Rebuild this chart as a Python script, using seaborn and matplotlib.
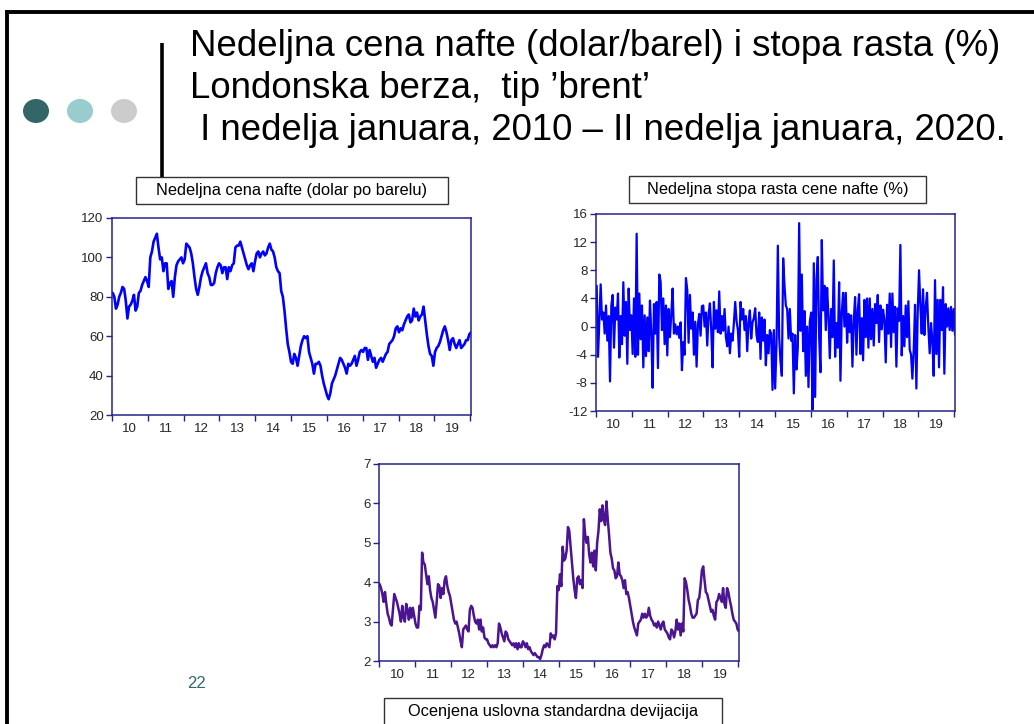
import numpy as np
import pandas as pd
import matplotlib
matplotlib.use("Agg")
import matplotlib.pyplot as plt
from matplotlib.patches import Rectangle, Ellipse
from matplotlib.lines import Line2D
import seaborn as sns

# ---------------- data ----------------
start_date = "2010-01-08"
end_date = "2020-01-10"
year_ticks = list(range(2010, 2021))
year_labels = ["10", "11", "12", "13", "14", "15", "16", "17", "18", "19"]

price = [82, 80, 74, 76, 80, 82, 85, 84, 78, 69, 75, 76, 78, 81, 73, 75, 82, 83, 86, 88,
         90, 88, 85, 100, 103, 108, 110, 112, 105, 99, 100, 93, 97, 97, 84, 87, 88, 80, 90, 96,
         98, 99, 100, 97, 99, 107, 106, 105, 102, 97, 90, 84, 81, 85, 90, 93, 95, 97, 92, 90,
         86, 86, 87, 92, 95, 97, 96, 92, 95, 95, 89, 95, 93, 96, 97, 105, 106, 106, 108, 105,
         102, 99, 96, 94, 96, 97, 93, 98, 102, 103, 100, 102, 103, 101, 102, 105, 107, 104, 103, 100,
         95, 93, 92, 83, 80, 73, 64, 56, 52, 47, 46, 51, 49, 45, 50, 55, 58, 60, 59, 60,
         52, 49, 46, 41, 46, 46, 47, 45, 40, 36, 33, 30, 28, 31, 36, 38, 40, 43, 46, 49,
         48, 46, 44, 41, 46, 45, 46, 48, 50, 45, 48, 52, 53, 52, 54, 54, 48, 53, 50, 47,
         49, 44, 46, 48, 49, 47, 49, 51, 52, 56, 57, 58, 60, 64, 65, 62, 64, 63, 66, 68,
         70, 71, 67, 68, 74, 70, 72, 68, 70, 71, 75, 68, 61, 55, 51, 50, 45, 52, 54, 55,
         57, 60, 63, 65, 62, 58, 53, 58, 59, 56, 54, 56, 58, 54, 55, 56, 58, 58, 61, 62]

returns = [5.8, -4.3, 1.0, 6.0, 1.0, 2.0, -1.0, 3.0, -2.0, 1.5, -7.8, 3.0, 4.5, -3.0, 2.7, 1.0, 4.7, -4.4, 1.5, -2.5,
           6.3, -1.3, 3.5, -5.3, 5.4, -0.5, 1.6, -3.9, 4.0, -4.3, 13.2, -4.0, 4.7, -1.8, 3.0, -5.8, 1.6, -4.2, 1.3, -3.5,
           3.7, -1.0, -8.7, 3.2, -1.0, 3.5, -5.9, 7.4, 6.4, -0.5, 4.0, -2.5, 3.0, -4.1, 2.5, -1.5, 1.8, 5.4, -1.0, 0.3,
           -1.1, 0.0, -1.6, 0.6, -6.2, -2.2, -4.0, 6.9, 5.2, -2.3, 4.5, -0.3, 2.0, -4.0, 0.7, -5.7, 0.3, 1.8, -1.3, 2.9,
           3.0, 0.0, 2.0, -2.7, 1.8, 3.3, -0.5, -5.8, 3.5, -0.3, 2.3, -0.8, 5.0, -1.0, 1.5, -0.6, 2.5, -1.5, -2.8, 0.0,
           -3.8, -1.0, -2.0, 0.5, 3.5, 0.8, -0.5, -4.3, 3.5, 1.0, 2.5, -0.5, 1.5, -3.5, 0.6, 2.3, -1.7, 0.6, 1.2, 2.6,
           -1.2, -2.2, 2.0, -4.6, 1.3, -2.0, 1.0, -5.5, -1.2, -3.8, -0.5, -1.0, -9.0, -0.5, -8.8, -2.5, 11.5, -1.5, -5.0, -7.0,
           9.7, 5.8, 3.0, 2.5, -1.7, 2.5, -2.0, -1.0, -9.5, -1.2, -6.1, -3.0, 14.7, -0.6, 7.4, -3.5, 2.2, -7.0, 0.0, -8.6,
           0.7, 2.0, -11.8, 9.0, -10.0, 6.7, 9.9, -1.5, -6.5, 12.3, 2.3, 5.8, -0.5, 5.5, 1.5, -4.5, 2.5, -1.5, 9.4, -4.3,
           0.5, -3.0, 6.3, -7.7, 2.0, 4.8, 0.0, 4.8, -2.3, 1.8, -0.8, 1.6, -5.7, 0.8, 4.2, -4.0, 2.3, 4.6, -3.9, 1.2,
           -4.8, 3.8, -1.5, 4.0, -3.0, 4.0, -1.8, 2.5, -2.7, 3.2, 0.5, 4.5, -2.2, 3.0, -0.4, 2.4, 1.0, -5.1, 3.1, -1.0,
           4.7, -2.9, 4.7, -0.8, 2.8, -5.7, 2.6, 0.8, 11.6, -4.1, 1.5, -2.8, 3.0, -1.5, 3.6, -3.3, -4.0, -7.4, -3.4, 3.1,
           -8.8, 2.0, 8.0, 3.0, -1.0, 5.3, -1.2, 2.8, 4.8, -0.2, -3.8, 0.5, -2.0, -7.0, 6.6, -3.9, 3.8, -5.8, 3.8, -0.5,
           5.6, -6.7, 3.2, 0.0, 2.6, -0.5, 2.8, -0.6, 2.5, -1.2]

sigma = [3.95, 3.85, 3.7, 3.5, 3.75, 3.45, 3.2, 3.1, 2.95, 2.9, 3.3, 3.7, 3.6, 3.5, 3.35, 3.2, 3.0, 3.4, 3.1, 3.0,
         3.45, 3.3, 3.05, 3.35, 3.1, 3.35, 3.15, 2.95, 2.85, 2.85, 3.4, 3.3, 4.75, 4.5, 4.45, 4.2, 3.95, 4.15, 3.8, 3.6,
         3.5, 3.3, 3.1, 3.5, 3.95, 3.9, 3.6, 3.85, 3.7, 4.05, 4.15, 3.9, 3.75, 3.65, 3.45, 3.25, 3.05, 2.95, 3.0, 2.85,
         2.7, 2.5, 2.35, 2.8, 2.85, 2.9, 2.8, 2.75, 3.3, 3.4, 3.35, 3.15, 3.0, 2.95, 3.05, 2.8, 3.05, 2.75, 2.85, 2.6,
         2.55, 2.55, 2.45, 2.4, 2.35, 2.4, 2.35, 2.4, 2.35, 2.45, 2.95, 2.85, 2.7, 2.6, 2.5, 2.75, 2.7, 2.55, 2.5, 2.45,
         2.4, 2.45, 2.35, 2.45, 2.3, 2.45, 2.35, 2.35, 2.5, 2.45, 2.35, 2.45, 2.3, 2.35, 2.25, 2.2, 2.15, 2.2, 2.15, 2.1,
         2.1, 2.05, 2.15, 2.3, 2.4, 2.35, 2.45, 2.4, 2.35, 2.7, 2.6, 2.65, 2.55, 2.7, 3.9, 3.8, 4.2, 3.9, 4.9, 4.55,
         4.6, 4.8, 5.4, 5.3, 4.9, 4.5, 4.1, 3.8, 3.6, 4.1, 4.15, 3.95, 4.05, 3.85, 5.6, 5.2, 5.0, 5.15, 4.7, 4.5,
         4.75, 4.4, 4.8, 4.3, 5.0, 5.3, 5.85, 5.55, 5.95, 5.6, 5.45, 6.05, 5.6, 5.2, 4.75, 4.6, 4.35, 4.3, 4.1, 4.15,
         4.5, 4.2, 4.15, 4.05, 3.85, 4.05, 3.7, 3.75, 3.6, 3.4, 3.2, 3.0, 2.85, 2.75, 2.65, 2.95, 3.0, 3.05, 3.2, 3.1,
         3.2, 3.1, 3.15, 3.35, 3.15, 3.05, 3.0, 2.9, 2.95, 2.85, 3.0, 2.9, 2.8, 2.95, 3.0, 2.8, 2.75, 2.7, 2.6, 2.55,
         2.8, 2.75, 2.6, 2.75, 3.05, 2.8, 2.95, 2.65, 2.95, 2.75, 4.1, 4.0, 3.8, 3.55, 3.4, 3.2, 3.1, 3.1, 3.15, 3.2,
         3.55, 3.6, 3.9, 4.3, 4.4, 4.05, 3.75, 3.7, 3.55, 3.4, 3.25, 3.3, 3.15, 3.05, 3.5, 3.55, 3.7, 3.6, 3.5, 3.85,
         3.45, 3.35, 3.85, 3.75, 3.55, 3.4, 3.2, 3.05, 3.0, 2.95, 2.8, 2.75]

title_lines = ["Nedeljna cena nafte (dolar/barel) i stopa rasta (%)",
               "Londonska berza,  tip \u2019brent\u2019",
               " I nedelja januara, 2010 \u2013 II nedelja januara, 2020."]
chart_titles = ["Nedeljna cena nafte (dolar po barelu)",
                "Nedeljna stopa rasta cene nafte (%)",
                "Ocenjena uslovna standardna devijacija"]
page_number = "22"

# ---------------- styling ----------------
sns.set_style("white")
plt.rcParams["font.family"] = ["Liberation Sans", "DejaVu Sans"]

W, H = 1034, 724
fig = plt.figure(figsize=(W / 100, H / 100), dpi=100)
fig.patch.set_facecolor("white")

def fx(px):
    return px / W

def fy(py):
    return 1 - py / H

axis_color = "#23238a"

def make_axes(left, top, right, bottom):
    return fig.add_axes([fx(left), fy(bottom), fx(right - left), (bottom - top) / H])

def style_axes(ax, ylim, yticks):
    ax.set_ylim(*ylim)
    ax.set_yticks(yticks)
    ax.set_yticklabels([str(t) for t in yticks])
    ax.set_xlim(pd.Timestamp("2010-01-01"), pd.Timestamp("2020-01-10"))
    major = [pd.Timestamp(f"{y}-01-01") for y in year_ticks]
    minor = [pd.Timestamp(f"{y}-07-02") for y in year_ticks[:-1]]
    ax.set_xticks(major)
    ax.set_xticklabels([""] * len(major))
    ax.set_xticks(minor, minor=True)
    ax.set_xticklabels(year_labels, minor=True)
    ax.tick_params(axis="x", which="major", direction="out", length=4.5, width=1.0,
                   color=axis_color, bottom=True)
    ax.tick_params(axis="x", which="minor", length=0, pad=6, labelsize=9.5, bottom=True)
    ax.tick_params(axis="y", which="major", direction="out", length=4, width=1.0,
                   color=axis_color, pad=2, labelsize=9.5, left=True)
    for s in ax.spines.values():
        s.set_visible(True)
        s.set_color(axis_color)
        s.set_linewidth(1.1)
    ax.set_xlabel("")
    ax.set_ylabel("")
    ax.grid(False)

# chart 1: price
ax1 = make_axes(112, 218, 471, 415)
d1 = pd.DataFrame({"date": pd.date_range(start_date, end_date, periods=len(price)), "value": price})
sns.lineplot(data=d1, x="date", y="value", ax=ax1, color="#0000ff", linewidth=1.9)
style_axes(ax1, (20, 120), [20, 40, 60, 80, 100, 120])

# chart 2: returns
ax2 = make_axes(596, 214, 955, 411)
d2 = pd.DataFrame({"date": pd.date_range(start_date, end_date, periods=len(returns)), "value": returns})
sns.lineplot(data=d2, x="date", y="value", ax=ax2, color="#0000ff", linewidth=1.6)
style_axes(ax2, (-12, 16), [-12, -8, -4, 0, 4, 8, 12, 16])

# chart 3: conditional std
ax3 = make_axes(379, 464, 739, 661)
d3 = pd.DataFrame({"date": pd.date_range(start_date, end_date, periods=len(sigma)), "value": sigma})
sns.lineplot(data=d3, x="date", y="value", ax=ax3, color="#4b1490", linewidth=1.8)
style_axes(ax3, (2, 7), [2, 3, 4, 5, 6, 7])

# ---------------- slide decorations ----------------
def pxline(x0, y0, x1, y1, lw, color="black"):
    fig.add_artist(Line2D([fx(x0), fx(x1)], [fy(y0), fy(y1)], transform=fig.transFigure,
                          color=color, linewidth=lw, solid_capstyle="butt"))

pxline(5.5, 11.5, 1034, 11.5, 2.8)
pxline(7, 10, 7, 724, 2.8)
pxline(162, 43, 162, 177, 2.6)

for cx, col in zip([36, 80, 124], ["#336666", "#99cccc", "#cccccc"]):
    fig.add_artist(Ellipse((fx(cx), fy(111)), 26 / W, 24 / H, transform=fig.transFigure,
                           facecolor=col, edgecolor="none"))

for i, line in enumerate(title_lines):
    fig.text(fx(190), fy(47 + 41.5 * i), line, fontsize=26.4, ha="left", va="center",
             color="black")

def box_title(x0, y0, x1, y1, text):
    fig.add_artist(Rectangle((fx(x0), fy(y1)), fx(x1 - x0), (y1 - y0) / H,
                             transform=fig.transFigure, facecolor="white",
                             edgecolor="#333333", linewidth=1.0))
    fig.text(fx((x0 + x1) / 2), fy(y0 + 13.5), text, fontsize=11.8,
             ha="center", va="center", color="black")

box_title(136, 177, 448, 204, chart_titles[0])
box_title(629, 176, 926, 203, chart_titles[1])
box_title(384, 698, 722, 735, chart_titles[2])

fig.text(fx(197), fy(683), page_number, fontsize=12, ha="center", va="center", color="#336666")

fig.savefig("out.png", dpi=100, facecolor="white")
